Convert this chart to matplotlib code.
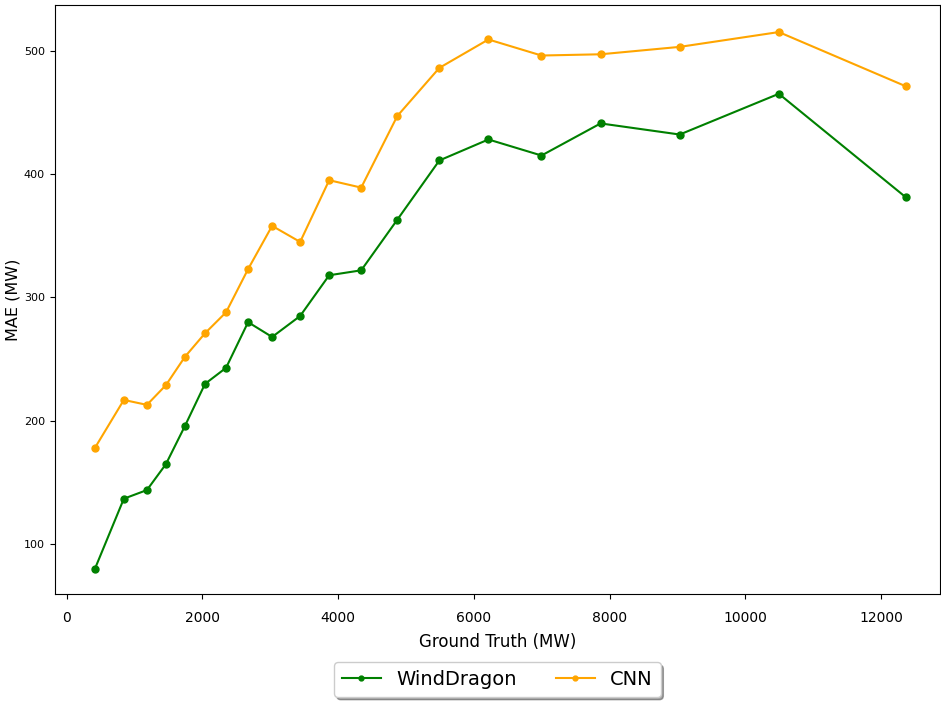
import matplotlib.pyplot as plt

# ground truth bins (MW) and MAE per model
ground_truth = [413, 841, 1181, 1461, 1742, 2037, 2347, 2672, 3026, 3439,
                3867, 4339, 4871, 5491, 6214, 6996, 7867, 9033, 10494, 12369]
mae_winddragon = [80, 137, 144, 165, 196, 230, 243, 280, 268, 285,
                  318, 322, 363, 411, 428, 415, 441, 432, 465, 381]
mae_cnn = [178, 217, 213, 229, 252, 271, 288, 323, 358, 345,
           395, 389, 447, 486, 509, 496, 497, 503, 515, 471]

fig = plt.figure(figsize=(9.41, 7.01), dpi=100)
ax = fig.add_axes([0.058, 0.153, 0.941, 0.84])

ax.plot(ground_truth, mae_winddragon, marker='o', markersize=5, color='green', label='WindDragon')
ax.plot(ground_truth, mae_cnn, marker='o', markersize=5, color='orange', label='CNN')

ax.set_xlabel('Ground Truth (MW)', fontsize=12, labelpad=6)
ax.set_ylabel('MAE (MW)', fontsize=11.5, labelpad=2)
ax.tick_params(axis='x', labelsize=10, pad=9)
ax.tick_params(axis='y', labelsize=8)
ax.set_xlim(-180, 12870)
ax.set_ylim(60, 537)

ax.legend(loc='upper center', bbox_to_anchor=(0.5, -0.1), ncol=2, fontsize=14,
          shadow=True, markerscale=0.7)

plt.savefig('out.png')
